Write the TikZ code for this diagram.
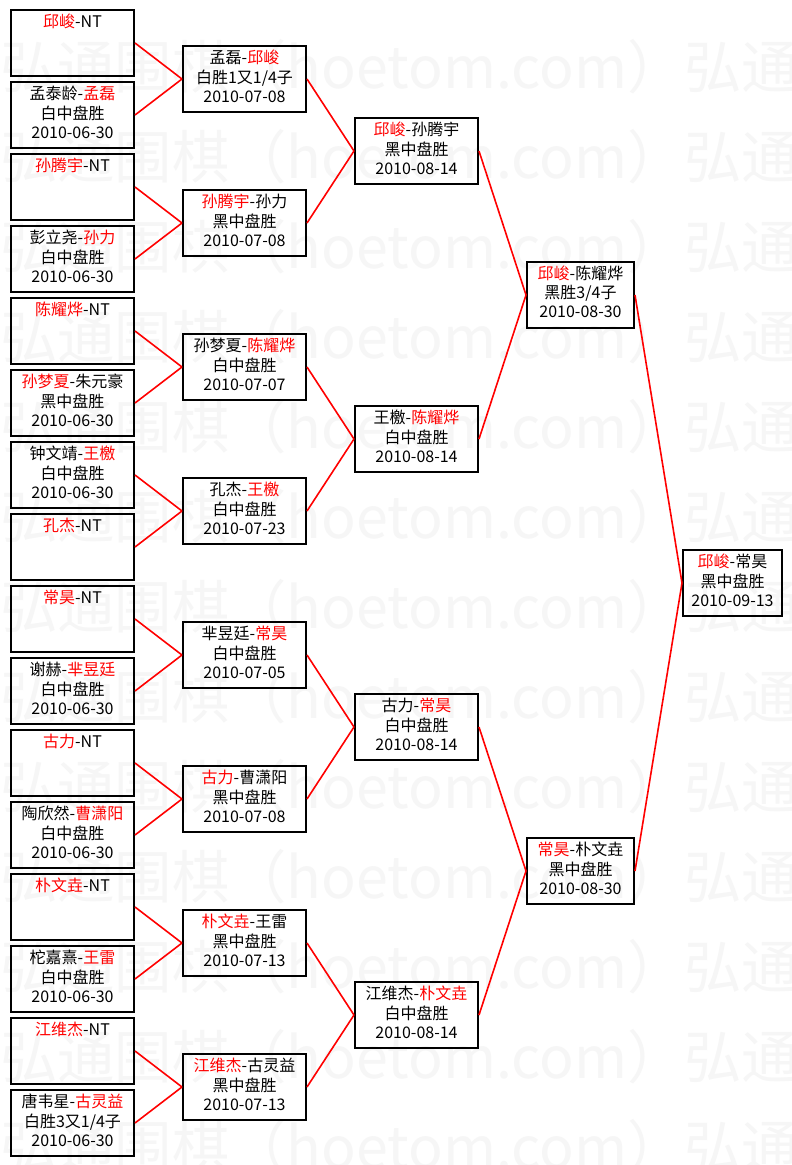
\documentclass[tikz,border=0pt]{standalone}
\usepackage{fontspec}
\setmainfont{Noto Sans CJK SC}
\newcommand{\win}[1]{\textcolor{red}{#1}}
\newcommand{\match}[3]{#1\strut\\#2\strut\\#3\strut}

\begin{document}
\begin{tikzpicture}[x=0.75pt,y=-0.75pt,
    game/.style={draw,line width=1.5pt,minimum width=92.25pt,minimum height=49.5pt,inner sep=0pt,align=center,font=\fontsize{12pt}{14.25pt}\selectfont},
    semi/.style={game,minimum width=80.25pt},
    last/.style={game,minimum width=74.25pt},
    link/.style={draw=red,line width=1.2pt},
    wmtext/.style={anchor=west,inner sep=0pt,text=black!3.5,font=\fontsize{43pt}{43pt}\selectfont}]
    \useasboundingbox (0,0) rectangle (792,1165);
    \fill[white] (0,0) rectangle (792,1165);
    % watermark
    \begin{scope}
        \clip (0,0) rectangle (792,1165);
        \foreach \k in {0,...,12} {
            \node[wmtext] (wm\k) at (0,{67+90*\k}) {弘通围棋（hoetom.com）弘通围棋};
        }
    \end{scope}
    % first round
    \foreach \i/\pair/\res/\when in {
        0/\win{邱峻}-NT/{}/{},
        1/孟泰龄-\win{孟磊}/白中盘胜/2010-06-30,
        2/\win{孙腾宇}-NT/{}/{},
        3/彭立尧-\win{孙力}/白中盘胜/2010-06-30,
        4/\win{陈耀烨}-NT/{}/{},
        5/\win{孙梦夏}-朱元豪/黑中盘胜/2010-06-30,
        6/钟文靖-\win{王檄}/白中盘胜/2010-06-30,
        7/\win{孔杰}-NT/{}/{},
        8/\win{常昊}-NT/{}/{},
        9/谢赫-\win{芈昱廷}/白中盘胜/2010-06-30,
        10/\win{古力}-NT/{}/{},
        11/陶欣然-\win{曹潇阳}/白中盘胜/2010-06-30,
        12/\win{朴文垚}-NT/{}/{},
        13/柁嘉熹-\win{王雷}/白中盘胜/2010-06-30,
        14/\win{江维杰}-NT/{}/{},
        15/唐韦星-\win{古灵益}/{白胜3又1/4子}/2010-06-30} {
        \node[game] (a\i) at (72.5,{43+72*\i}) {\match{\pair}{\res}{\when}};
    }
    % second round
    \foreach \i/\pair/\res/\when in {
        0/孟磊-\win{邱峻}/{白胜1又1/4子}/2010-07-08,
        1/\win{孙腾宇}-孙力/黑中盘胜/2010-07-08,
        2/孙梦夏-\win{陈耀烨}/白中盘胜/2010-07-07,
        3/孔杰-\win{王檄}/白中盘胜/2010-07-23,
        4/芈昱廷-\win{常昊}/白中盘胜/2010-07-05,
        5/\win{古力}-曹潇阳/黑中盘胜/2010-07-08,
        6/\win{朴文垚}-王雷/黑中盘胜/2010-07-13,
        7/\win{江维杰}-古灵益/黑中盘胜/2010-07-13} {
        \node[game] (b\i) at (244.5,{79+144*\i}) {\match{\pair}{\res}{\when}};
    }
    % quarter finals
    \foreach \i/\pair/\res/\when in {
        0/\win{邱峻}-孙腾宇/黑中盘胜/2010-08-14,
        1/王檄-\win{陈耀烨}/白中盘胜/2010-08-14,
        2/古力-\win{常昊}/白中盘胜/2010-08-14,
        3/江维杰-\win{朴文垚}/白中盘胜/2010-08-14} {
        \node[game] (c\i) at (416.5,{151+288*\i}) {\match{\pair}{\res}{\when}};
    }
    % semi finals
    \foreach \i/\pair/\res/\when in {
        0/\win{邱峻}-陈耀烨/{黑胜3/4子}/2010-08-30,
        1/\win{常昊}-朴文垚/黑中盘胜/2010-08-30} {
        \node[semi] (d\i) at (580.5,{295+576*\i}) {\match{\pair}{\res}{\when}};
    }
    % final
    \node[last] (f) at (732.5,583) {\match{\win{邱峻}-常昊}{黑中盘胜}{2010-09-13}};
    % links
    \foreach \i [evaluate=\i as \j using int(\i/2)] in {0,...,15} {
        \draw[link] (a\i.east) -- (b\j.west);
    }
    \foreach \i [evaluate=\i as \j using int(\i/2)] in {0,...,7} {
        \draw[link] (b\i.east) -- (c\j.west);
    }
    \foreach \i [evaluate=\i as \j using int(\i/2)] in {0,...,3} {
        \draw[link] (c\i.east) -- (d\j.west);
    }
    \foreach \i in {0,1} {
        \draw[link] (d\i.east) -- (f.west);
    }
\end{tikzpicture}
\end{document}
